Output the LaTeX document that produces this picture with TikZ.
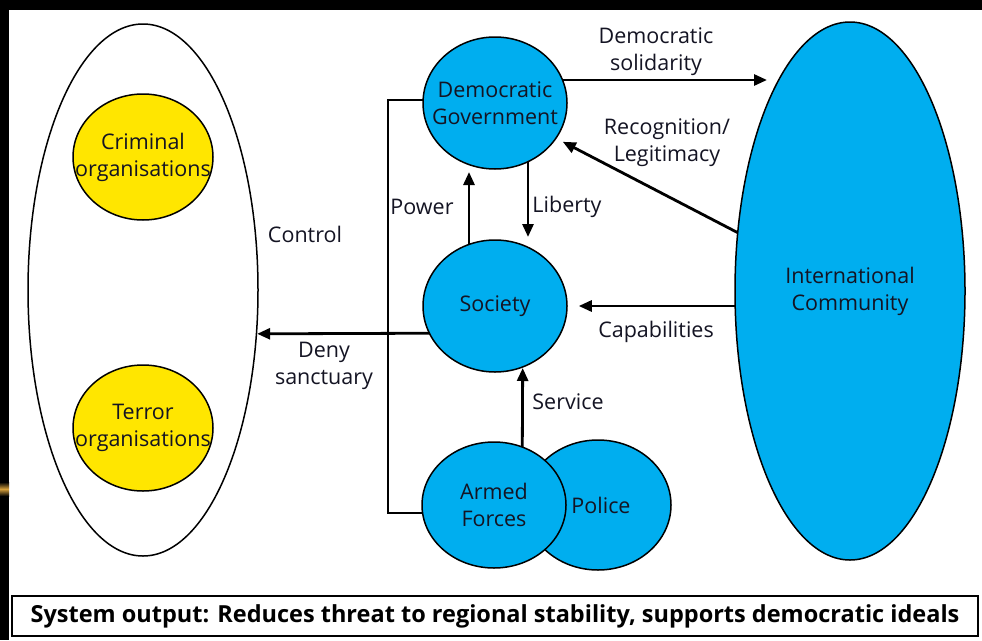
\documentclass[tikz,border=0pt]{standalone}
\usepackage{fontspec}
\setmainfont{Open Sans}
\usetikzlibrary{shapes.geometric,arrows.meta,calc}
\pgfdeclarelayer{bgl}
\pgfdeclarelayer{lines}
\pgfsetlayers{bgl,lines,main}
\definecolor{cblue}{RGB}{0,174,239}
\definecolor{cyel}{RGB}{255,230,0}
\definecolor{ink}{RGB}{20,20,35}
\definecolor{gold}{RGB}{214,160,60}
\newcommand\lblfont{\fontsize{21.5}{27}\selectfont}
\newcommand\boxfont{\fontsize{23.5}{26}\selectfont\bfseries}
\begin{document}
\begin{tikzpicture}[x=1pt,y=-1pt,
  blob/.style={ellipse,draw=black,line width=1.5pt,inner sep=-30pt,align=center,font=\lblfont,text=ink},
  bluenode/.style={blob,fill=cblue},
  yelnode/.style={blob,fill=cyel},
  lbl/.style={align=center,font=\lblfont,text=ink,inner sep=0pt},
  arr/.style={line width=2.8pt,-{Triangle[length=13pt,width=11pt]}},
  link/.style={line width=2pt}]
\useasboundingbox (0,0) rectangle (982,640);
\begin{pgfonlayer}{bgl}
  \fill[black] (0,0) rectangle (982,640);
  \fill[white] (9,10) rectangle (982,640);
  \shade[top color=black,bottom color=black,middle color=gold] (0,482) rectangle (9,496);
\end{pgfonlayer}

% nodes
\node[blob,fill=white,minimum width=230pt,minimum height=532pt] (lo) at (143,290) {};
\node[yelnode,minimum width=140pt,minimum height=126pt] (crim) at (143,157) {Criminal\\organisations};
\node[yelnode,minimum width=140pt,minimum height=126pt] (terr) at (143,428) {Terror\\organisations};
\node[bluenode,minimum width=144pt,minimum height=132pt] (dg) at (495,103) {Democratic\\Government};
\node[bluenode,minimum width=144pt,minimum height=132pt] (soc) at (495,306) {Society};
\node[bluenode,minimum width=146pt,minimum height=130pt] (pol) at (598,505) {\hspace*{6pt}Police};
\node[bluenode,minimum width=144pt,minimum height=126pt] (af) at (494,505) {Armed\\Forces};
\node[bluenode,minimum width=230pt,minimum height=538pt] (ic) at (850,291) {International\\Community};
\node[draw=black,line width=1.3pt,minimum width=966pt,minimum height=40pt,inner sep=0pt,font=\boxfont,text=black] (out) at (495,616)
  {System output: Reduces threat to regional stability, supports democratic ideals};

\coordinate (dsEnd) at (767,80);
\coordinate (ctop) at (388,100);
\coordinate (cbot) at (388,513);

% connectors
\begin{pgfonlayer}{lines}
  \draw[link] (ctop -| dg.center) -- (ctop) -- (cbot) -- (cbot -| af.center);
  \draw[arr] ($(dg.center)+(0,-23)$) -- (dsEnd);
  \draw[arr,shorten >=7pt] (ic.center) -- (dg.-30);
  \draw[arr,shorten >=11pt] (ic.center |- soc.east) -- (soc.east);
  \draw[arr,shorten >=69pt] ($(soc.center)+(-26,0)$) -- ($(dg.center)+(-26,0)$);
  \draw[arr,shorten >=69pt] ($(dg.center)+(33,0)$) -- ($(soc.center)+(33,0)$);
  \draw[arr,shorten >=62pt] ($(af.center)+(28,0)$) -- ($(soc.center)+(28,0)$);
  \draw[arr] ($(soc.center)+(0,27)$) -- (lo.-21);
\end{pgfonlayer}

% labels
\node[lbl] (lSol) at (656,52) {Democratic\\solidarity};
\node[lbl] (lRec) at (667,143) {Recognition/\\Legitimacy};
\node[lbl] (lCap) at (656,332) {Capabilities};
\node[lbl] (lPow) at (422,207) {Power};
\node[lbl] (lLib) at (567,207) {Liberty};
\node[lbl] (lSer) at (568,402) {Service};
\node[lbl] (lCon) at (305,234) {Control};
\node[lbl] (lDen) at (324,366) {Deny\\sanctuary};
\end{tikzpicture}
\end{document}
